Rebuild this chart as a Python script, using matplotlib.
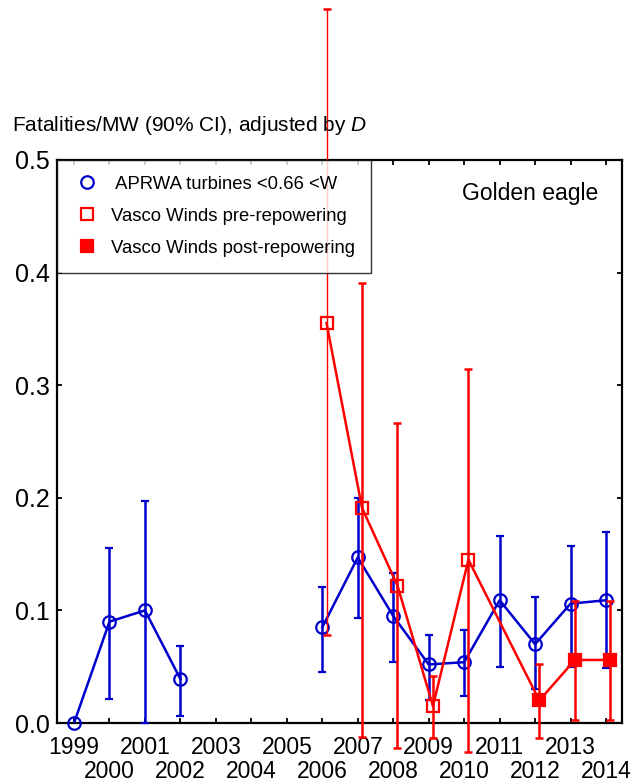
import matplotlib
matplotlib.use("Agg")
import matplotlib.pyplot as plt
import numpy as np
from matplotlib.lines import Line2D

plt.rcParams['font.family'] = ['Liberation Sans', 'DejaVu Sans']
plt.rcParams['mathtext.fontset'] = 'custom'
plt.rcParams['mathtext.it'] = 'Liberation Sans:italic'
plt.rcParams['mathtext.rm'] = 'Liberation Sans'

# Blue: APRWA turbines
blue_years = [1999, 2000, 2001, 2002, 2006, 2007, 2008, 2009, 2010, 2011, 2012, 2013, 2014]
blue_val = [0.0, 0.090, 0.100, 0.039, 0.085, 0.147, 0.095, 0.052, 0.054, 0.109, 0.070, 0.106, 0.109]
blue_lo = [np.nan, 0.021, 0.0, 0.006, 0.045, 0.093, 0.054, 0.020, 0.024, 0.050, 0.030, 0.050, 0.049]
blue_hi = [np.nan, 0.155, 0.197, 0.068, 0.121, 0.200, 0.133, 0.078, 0.083, 0.166, 0.112, 0.157, 0.170]

# Red: Vasco Winds
pre_years = [2006, 2007, 2008, 2009, 2010]
pre_val = [0.355, 0.191, 0.122, 0.015, 0.145]
pre_lo = [0.078, -0.012, -0.022, -0.013, -0.026]
pre_hi = [0.634, 0.391, 0.266, 0.042, 0.314]

post_years = [2012, 2013, 2014]
post_val = [0.020, 0.056, 0.056]
post_lo = [-0.013, 0.003, 0.003]
post_hi = [0.052, 0.108, 0.108]

odd_years = list(range(1999, 2015, 2))
even_years = list(range(2000, 2015, 2))
y_ticks = [0.0, 0.1, 0.2, 0.3, 0.4, 0.5]
red_offset = 0.12

BLUE = '#0000CC'
RED = '#FF0000'

fig = plt.figure(figsize=(6.36, 7.84), dpi=100)
ax = fig.add_axes([0.0896, 0.0778, 0.978 - 0.0896, 0.796 - 0.0778])


def noclip(eb):
    data_line, caps, bars = eb
    for c in caps:
        c.set_clip_on(False)
    for b in bars:
        b.set_clip_on(False)
    if data_line is not None:
        data_line.set_clip_on(False)


# blue: lines broken where years are not consecutive
bx = np.array(blue_years, dtype=float)
bv = np.array(blue_val)
bl = np.array(blue_lo)
bh = np.array(blue_hi)
breaks = np.where(np.diff(bx) > 1)[0] + 1
for seg in np.split(np.arange(len(bx)), breaks):
    ax.plot(bx[seg], bv[seg], '-', color=BLUE, lw=1.8, zorder=3)
eb = ax.errorbar(bx, bv, yerr=[bv - bl, bh - bv], fmt='o', color=BLUE,
                 mfc='none', mec=BLUE, ms=9, mew=1.6, elinewidth=1.8,
                 capsize=3, capthick=1.8, zorder=3)
noclip(eb)

# red connecting line
rx = np.array(pre_years + post_years) + red_offset
ry = pre_val + post_val
ax.plot(rx, ry, '-', color=RED, lw=1.8, zorder=4, clip_on=False)

pv = np.array(pre_val)
pl = np.array(pre_lo)
ph = np.array(pre_hi)
px = np.array(pre_years) + red_offset
eb = ax.errorbar(px[:1], pv[:1], yerr=[pv[:1] - pl[:1], ph[:1] - pv[:1]], fmt='none',
                 ecolor=RED, elinewidth=1.0, capsize=3, capthick=1.8, zorder=4)
noclip(eb)
eb = ax.errorbar(px[1:], pv[1:], yerr=[pv[1:] - pl[1:], ph[1:] - pv[1:]], fmt='none',
                 ecolor=RED, elinewidth=1.8, capsize=3, capthick=1.8, zorder=4)
noclip(eb)
ax.plot(px, pv, 's', color=RED, mfc='none', mec=RED, ms=9, mew=1.6, zorder=5,
        clip_on=False)

qv = np.array(post_val)
ql = np.array(post_lo)
qh = np.array(post_hi)
qx = np.array(post_years) + red_offset
eb = ax.errorbar(qx, qv, yerr=[qv - ql, qh - qv], fmt='none', ecolor=RED,
                 elinewidth=1.8, capsize=3, capthick=1.8, zorder=4)
noclip(eb)
ax.plot(qx, qv, 's', color=RED, mfc=RED, mec=RED, ms=9, mew=1.6, zorder=5,
        clip_on=False)

ax.set_xlim(1998.52, 2014.45)
ax.set_ylim(0.0, 0.5)
ax.set_xticks(odd_years)
ax.set_xticklabels([str(y) for y in odd_years])
ax.set_xticks(even_years, minor=True)
ax.set_xticklabels([str(y) for y in even_years], minor=True)
ax.set_yticks(y_ticks)
ax.set_yticklabels(['%.1f' % v for v in y_ticks])
ax.tick_params(axis='both', which='both', direction='in', top=True, right=True,
               length=3.5, width=1.3)
ax.tick_params(axis='y', labelsize=18, pad=5)
ax.tick_params(axis='x', which='major', labelsize=16.5, pad=9)
ax.tick_params(axis='x', which='minor', labelsize=16.5, pad=26.5)
for s in ax.spines.values():
    s.set_linewidth(1.6)

fig.text(0.019, 0.840, r'Fatalities/MW (90% CI), adjusted by $\it{D}$',
         fontsize=15, va='center', ha='left')

ax.text(0.9575, 0.941, 'Golden eagle', transform=ax.transAxes, ha='right',
        va='center', fontsize=16.5)

handles = [
    Line2D([], [], ls='none', marker='o', mfc='none', mec=BLUE, ms=9, mew=1.6),
    Line2D([], [], ls='none', marker='s', mfc='none', mec=RED, ms=9, mew=1.6),
    Line2D([], [], ls='none', marker='s', mfc=RED, mec=RED, ms=9, mew=1.6),
]
labels = [' APRWA turbines <0.66 <W', 'Vasco Winds pre-repowering',
          'Vasco Winds post-repowering']
leg = ax.legend(handles, labels, loc='upper left', bbox_to_anchor=(0.0, 1.0),
                fontsize=13.3, frameon=True, fancybox=False, borderaxespad=0,
                handletextpad=0.5, labelspacing=0.82, borderpad=0.85,
                handlelength=1.6)
leg.get_frame().set_edgecolor('black')
leg.get_frame().set_linewidth(1.0)

fig.savefig('out.png', dpi=100)
